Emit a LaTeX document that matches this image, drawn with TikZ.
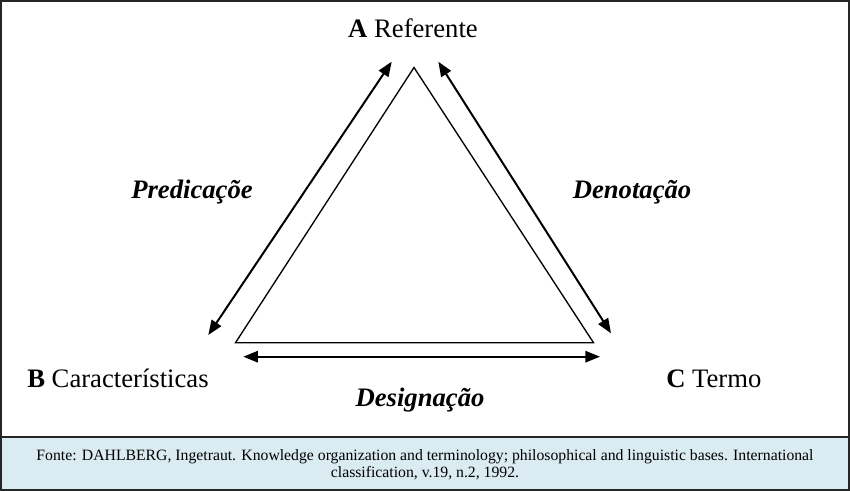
\documentclass[tikz,border=0pt]{standalone}
\usepackage{fontspec}
\setmainfont{Liberation Serif}
\usetikzlibrary{arrows.meta}
\tikzset{
    %Define standard arrow tip
    >={Triangle[length=11pt,width=8.5pt]},
}
\definecolor{fontebg}{HTML}{DAEBF1}

\begin{document}
\begin{tikzpicture}[
  x=0.75pt, y=-0.75pt,
  every node/.style = {inner sep=0pt, font=\fontsize{20}{24}\selectfont},
  lbl/.style = {font=\fontsize{20}{24}\selectfont\bfseries\itshape},
  arr/.style = {<->, line width=1.5pt},
  tri/.style = {line width=1pt, line join=miter},
  fonte/.style = {align=center, font=\fontsize{11.8}{12.4}\selectfont} ]
  \useasboundingbox (0,0) rectangle (850,491);
  % frame and source box
  \fill[fontebg] (1,437) rectangle (849,490);
  \draw[line width=1.5pt, black!85] (1,1) rectangle (849,490);
  \draw[line width=1.5pt, black!85] (1,437) -- (849,437);
  % corners of the triangle
  \coordinate (ta) at (414,67.5);
  \coordinate (tb) at (235.5,342.7);
  \coordinate (tc) at (593.5,342.7);
  \draw[tri] (ta) -- (tb) -- (tc) -- cycle;
  % arrow ends
  \coordinate (pa) at (391.7,61.7);
  \coordinate (pb) at (208.3,335);
  \coordinate (da) at (438.3,61.7);
  \coordinate (dc) at (611,333.3);
  \coordinate (sb) at (243.3,356.7);
  \coordinate (sc) at (600,356.7);
  \draw[arr] (pb) -- (pa);
  \draw[arr] (da) -- (dc);
  \draw[arr] (sb) -- (sc);
  % vertex labels
  \node[anchor=base] (ref) at (413,38) {\textbf{A} Referente};
  \node[anchor=base west] (car) at (27,388) {\textbf{B} Características};
  \node[anchor=base west] (ter) at (666,388) {\textbf{C} Termo};
  % relation labels
  \node[lbl, anchor=base] (pred) at (192,199) {Predicaçõe};
  \node[lbl, anchor=base] (deno) at (632,199) {Denotação};
  \node[lbl, anchor=base] (desi) at (420,407) {Designação};
  \node[fonte] (src) at (425,465) {Fonte: DAHLBERG, Ingetraut. Knowledge organization and terminology; philosophical and linguistic bases. International\\ classification, v.19, n.2, 1992.};
\end{tikzpicture}
\end{document}
